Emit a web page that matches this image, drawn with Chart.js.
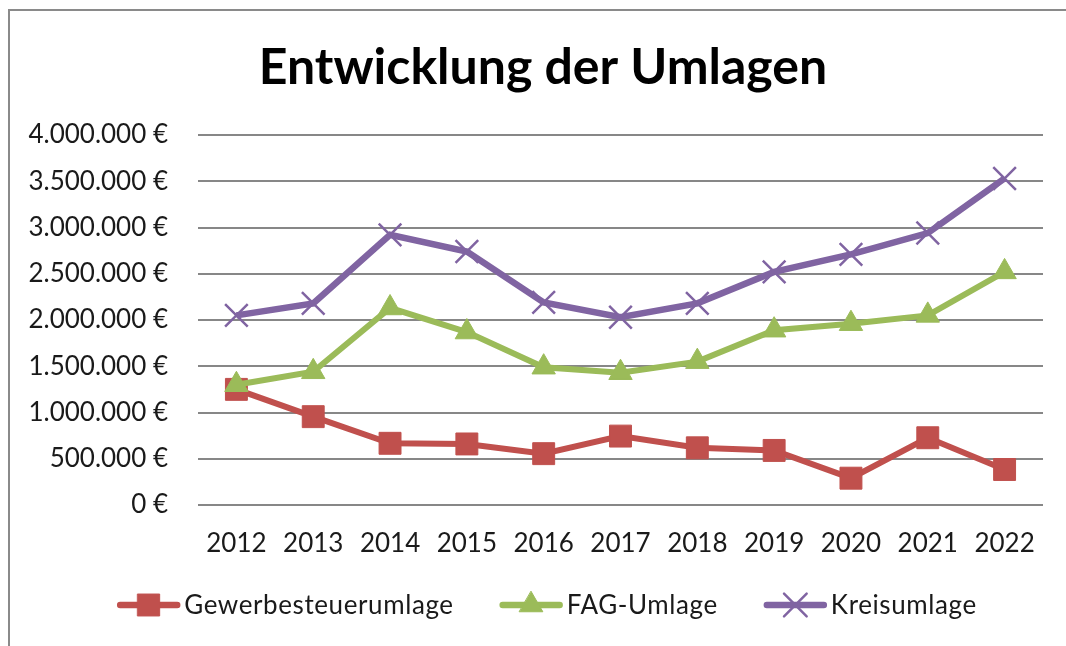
<!DOCTYPE html>
<html>
<head>
<meta charset="utf-8">
<script src="https://cdn.jsdelivr.net/npm/chart.js@4/dist/chart.umd.min.js"></script>
<style>
  html, body { margin: 0; padding: 0; background: #fff; overflow: hidden; }
  #wrap { position: relative; width: 1066px; height: 646px; }
  #frame { position: absolute; left: 8px; top: 9px; width: 1200px; height: 800px;
           border-top: 2px solid #8a8a8a; border-left: 2px solid #8a8a8a; pointer-events: none; }
  canvas { position: absolute; left: 0; top: 0; }
</style>
</head>
<body>
<div id="wrap">
  <canvas id="c" width="1066" height="646"></canvas>
  <div id="frame"></div>
</div>
<script>
const titleText = 'Entwicklung der Umlagen';
const years = ['2012','2013','2014','2015','2016','2017','2018','2019','2020','2021','2022'];
const seriesNames = ['Gewerbesteuerumlage', 'FAG-Umlage', 'Kreisumlage'];
const gewerbe = [1250000, 955000, 667000, 660000, 555000, 745000, 618000, 590000, 290000, 727000, 384000];
const fag     = [1300000, 1440000, 2130000, 1870000, 1490000, 1430000, 1550000, 1890000, 1960000, 2050000, 2520000];
const kreis   = [2050000, 2180000, 2920000, 2740000, 2190000, 2030000, 2180000, 2520000, 2710000, 2940000, 3530000];
const yTicksMin = 0, yTicksMax = 4000000, yStep = 500000;

const colors = ['#C0504D', '#9BBB59', '#8064A2'];
const FONT = 'Lato, "Open Sans", sans-serif';

const styles = [
  { pointStyle: 'rect', radius: 15.5, borderWidth: 1, lineWidth: 6 },
  { pointStyle: 'triangle', radius: 13.5, borderWidth: 1, lineWidth: 6 },
  { pointStyle: 'crossRot', radius: 16, borderWidth: 2.5, lineWidth: 6.5 }
];

const dataSets = [gewerbe, fag, kreis].map((d, i) => ({
  label: seriesNames[i],
  data: d,
  borderColor: colors[i],
  backgroundColor: colors[i],
  borderWidth: styles[i].lineWidth,
  tension: 0,
  pointStyle: styles[i].pointStyle,
  pointRadius: styles[i].radius,
  pointHoverRadius: styles[i].radius,
  pointBackgroundColor: colors[i],
  pointBorderColor: colors[i],
  pointBorderWidth: styles[i].borderWidth,
  order: 3 - i
}));

const titleAndLegendPlugin = {
  id: 'titleAndLegend',
  afterDraw(chart) {
    const ctx = chart.ctx;
    // Title
    ctx.save();
    ctx.font = 'bold 50px ' + FONT;
    ctx.fillStyle = '#000';
    ctx.textAlign = 'center';
    ctx.textBaseline = 'middle';
    ctx.fillText(titleText, 543, 68);
    ctx.restore();

    // Legend
    ctx.save();
    ctx.font = '26px ' + FONT;
    try { ctx.letterSpacing = '0.6px'; } catch (e) {}
    ctx.textBaseline = 'middle';
    const symW = 63, symGap = 4, itemGap = 46;
    const widths = seriesNames.map(n => ctx.measureText(n).width);
    let total = 0;
    widths.forEach((w, i) => { total += symW + symGap + w + (i < widths.length - 1 ? itemGap : 0); });
    let x = 547 - total / 2;
    const y = 605;
    seriesNames.forEach((name, i) => {
      ctx.strokeStyle = colors[i];
      ctx.lineWidth = 6.5;
      ctx.lineCap = 'round';
      ctx.beginPath();
      ctx.moveTo(x + 3, y);
      ctx.lineTo(x + symW - 3, y);
      ctx.stroke();
      ctx.fillStyle = colors[i];
      ctx.strokeStyle = colors[i];
      ctx.lineWidth = styles[i].borderWidth;
      Chart.helpers.drawPoint(ctx, {
        pointStyle: styles[i].pointStyle,
        radius: styles[i].radius,
        rotation: 0,
        borderWidth: styles[i].borderWidth
      }, x + symW / 2, y);
      ctx.fillStyle = '#1a1a1a';
      ctx.textAlign = 'left';
      ctx.fillText(name, x + symW + symGap, y + 1);
      x += symW + symGap + widths[i] + itemGap;
    });
    ctx.restore();
  }
};

new Chart(document.getElementById('c'), {
  type: 'line',
  data: { labels: years, datasets: dataSets },
  options: {
    responsive: false,
    animation: false,
    layout: { padding: { top: 135, left: 0, right: 23, bottom: 81 } },
    plugins: {
      legend: { display: false },
      tooltip: { enabled: false },
      title: { display: false }
    },
    scales: {
      x: {
        offset: true,
        grid: { display: false, drawTicks: false },
        border: { display: false },
        ticks: { color: '#1a1a1a', font: { family: FONT, size: 26 }, padding: 23, maxRotation: 0, autoSkip: false },
        afterFit(s) { s.height = 60; }
      },
      y: {
        min: yTicksMin,
        max: yTicksMax,
        grid: { color: '#878787', lineWidth: 2, drawTicks: false },
        border: { display: false },
        ticks: {
          stepSize: yStep,
          color: '#1a1a1a',
          font: { family: FONT, size: 26 },
          padding: 30,
          callback: v => v.toLocaleString('de-DE') + ' €'
        },
        afterFit(s) { s.width = 198; }
      }
    }
  },
  plugins: [titleAndLegendPlugin]
});
</script>
</body>
</html>
